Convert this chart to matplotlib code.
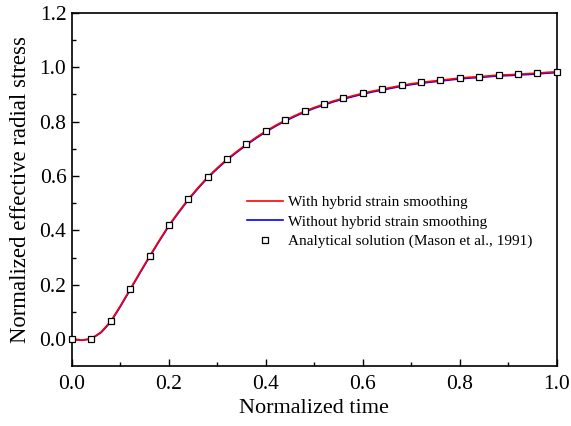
import numpy as np
import matplotlib
matplotlib.use('Agg')
import matplotlib.pyplot as plt

plt.rcParams['font.family'] = 'Liberation Serif'
plt.rcParams['mathtext.fontset'] = 'stix'

# Numerical results
t_num = [0.00, 0.02, 0.04, 0.06, 0.08, 0.10, 0.12, 0.14, 0.16, 0.18, 0.20,
         0.22, 0.24, 0.26, 0.28, 0.30, 0.32, 0.34, 0.36, 0.38, 0.40,
         0.42, 0.44, 0.46, 0.48, 0.50, 0.52, 0.54, 0.56, 0.58, 0.60,
         0.62, 0.64, 0.66, 0.68, 0.70, 0.72, 0.74, 0.76, 0.78, 0.80,
         0.82, 0.84, 0.86, 0.88, 0.90, 0.92, 0.94, 0.96, 0.98, 1.00]
s_hybrid = [0.000, -0.004, 0.002, 0.026, 0.066, 0.123, 0.184, 0.245, 0.305, 0.363, 0.419,
            0.468, 0.515, 0.557, 0.596, 0.630, 0.662, 0.690, 0.717, 0.742, 0.765,
            0.786, 0.805, 0.822, 0.838, 0.852, 0.864, 0.876, 0.886, 0.895, 0.904,
            0.912, 0.919, 0.926, 0.933, 0.939, 0.944, 0.948, 0.952, 0.956, 0.960,
            0.963, 0.965, 0.968, 0.971, 0.972, 0.974, 0.976, 0.978, 0.981, 0.983]
s_plain = [0.000, -0.004, 0.001, 0.024, 0.063, 0.120, 0.181, 0.242, 0.302, 0.360, 0.416,
           0.465, 0.512, 0.554, 0.593, 0.627, 0.659, 0.687, 0.714, 0.739, 0.762,
           0.783, 0.802, 0.819, 0.835, 0.849, 0.861, 0.873, 0.883, 0.892, 0.901,
           0.909, 0.916, 0.923, 0.930, 0.936, 0.941, 0.945, 0.949, 0.953, 0.957,
           0.960, 0.962, 0.965, 0.968, 0.969, 0.971, 0.973, 0.975, 0.978, 0.980]

# Analytical solution (Mason et al., 1991)
t_ana = [0.00, 0.04, 0.08, 0.12, 0.16, 0.20, 0.24, 0.28, 0.32, 0.36, 0.40, 0.44, 0.48,
         0.52, 0.56, 0.60, 0.64, 0.68, 0.72, 0.76, 0.80, 0.84, 0.88, 0.92, 0.96, 1.00]
s_ana = [0.000, 0.002, 0.066, 0.184, 0.305, 0.419, 0.515, 0.596, 0.662, 0.717, 0.765, 0.805, 0.838,
         0.864, 0.886, 0.904, 0.919, 0.933, 0.944, 0.952, 0.960, 0.965, 0.971, 0.974, 0.978, 0.983]

fig = plt.figure(figsize=(5.71, 4.26), dpi=100)
ax = fig.add_axes([0.126, 0.140, 0.849, 0.830])

ax.plot(t_num, s_plain, color='blue', lw=1.2, label='Without hybrid strain smoothing', zorder=2)
ax.plot(t_num, s_hybrid, color='red', lw=1.2, label='With hybrid strain smoothing', zorder=3)
ax.plot(t_ana, s_ana, ls='none', marker='s', ms=4.5, mfc='white', mec='black', mew=0.9,
        label='Analytical solution (Mason et al., 1991)', zorder=4, clip_on=False)

ax.set_xlim(0, 1.0)
ax.set_ylim(-0.1, 1.2)
ax.set_xticks(np.arange(0, 1.01, 0.2))
ax.set_yticks(np.arange(0, 1.21, 0.2))
ax.set_xticks(np.arange(0.1, 1.0, 0.2), minor=True)
ax.set_yticks(np.arange(0.1, 1.2, 0.2), minor=True)
ax.xaxis.set_major_formatter(matplotlib.ticker.FormatStrFormatter('%.1f'))
ax.yaxis.set_major_formatter(matplotlib.ticker.FormatStrFormatter('%.1f'))
ax.tick_params(which='both', direction='in', top=False, right=False, labelsize=15.5)
ax.tick_params(axis='x', pad=6)
ax.tick_params(axis='y', pad=4)
ax.tick_params(which='major', length=5, width=1)
ax.tick_params(which='minor', length=3, width=1)
for sp in ax.spines.values():
    sp.set_linewidth(1.2)

ax.set_xlabel('Normalized time', fontsize=16, labelpad=4)
ax.set_ylabel('Normalized effective radial stress', fontsize=16.4, labelpad=6)

h, l = ax.get_legend_handles_labels()
order = [1, 0, 2]
ax.legend([h[i] for i in order], [l[i] for i in order], loc='center left',
          bbox_to_anchor=(0.332, 0.409), frameon=False, fontsize=11,
          handlelength=2.35, handletextpad=0.35, labelspacing=0.38)

fig.savefig('out.png', dpi=100)
